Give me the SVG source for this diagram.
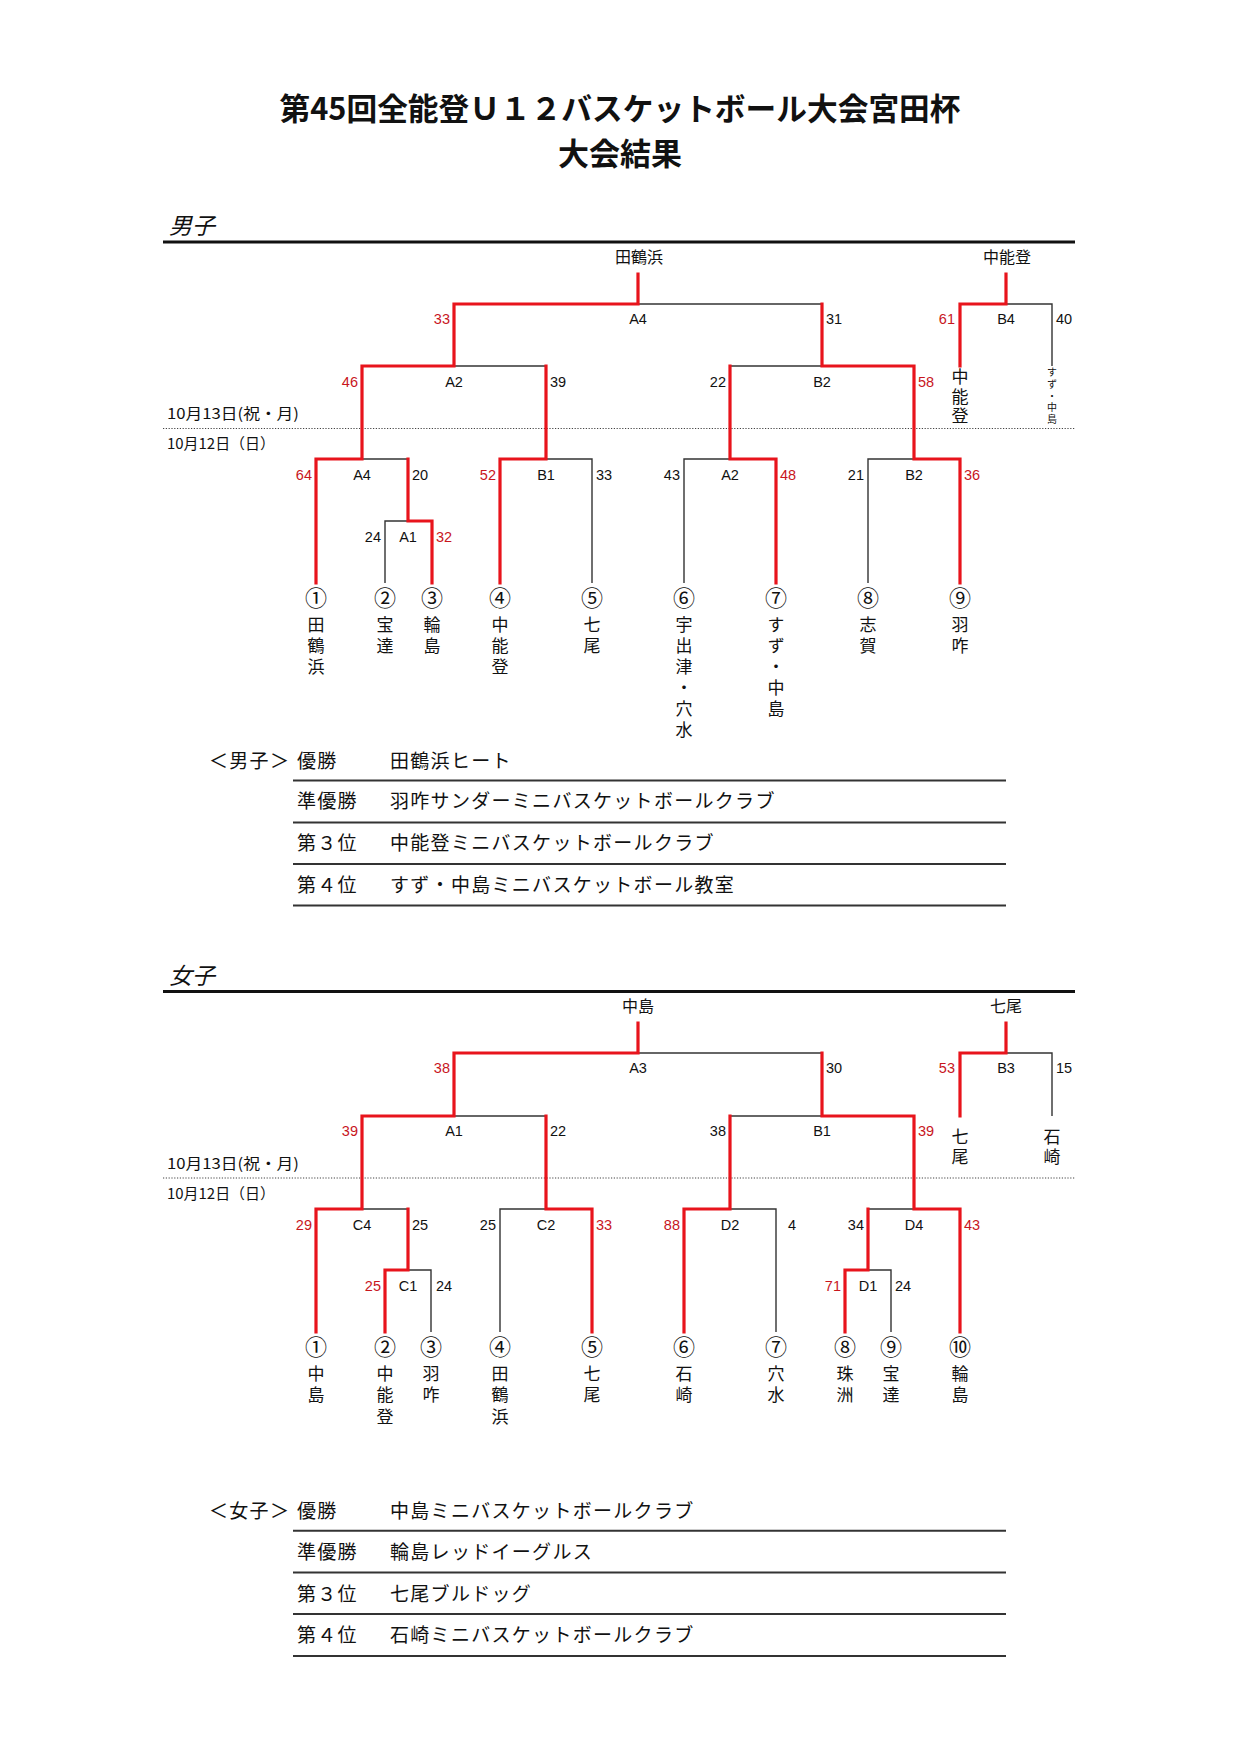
<svg xmlns="http://www.w3.org/2000/svg" width="1240" height="1754" viewBox="0 0 1240 1754">
<style>
.bg{fill:#fff}
.red{stroke:#e8141c;stroke-width:3.2;fill:none;stroke-linejoin:miter;stroke-linecap:square}
.blk{stroke:#333;stroke-width:1.4;fill:none}
.rule{stroke:#111;stroke-width:3}
.dot{stroke:#444;stroke-width:1.2;stroke-dasharray:1.2 1.6}
.tline{stroke:#333;stroke-width:2}
.jp{font-family:"Noto Sans CJK JP","Noto Sans CJK SC",sans-serif;fill:#111}
.title{font-size:31px;font-weight:700;text-anchor:middle}
.sec{font-size:23px;font-style:italic}
.sc{font-family:"Liberation Sans","DejaVu Sans",sans-serif;font-size:14.5px;fill:#111}
.r{fill:#c8161d}
.m{text-anchor:middle}
.e{text-anchor:end}
.v{writing-mode:vertical-rl;text-orientation:upright;font-size:17px;letter-spacing:4px}
.v2{letter-spacing:2.7px}
.v3{letter-spacing:4.5px}
.cn{font-size:22px;text-anchor:middle}
.top{font-size:16px;text-anchor:middle}
.sm{writing-mode:vertical-rl;text-orientation:upright;font-size:10px;letter-spacing:1.9px}
.date{font-size:15px}
.tb{font-size:19px;letter-spacing:1.3px}
</style>
<rect class="bg" x="0" y="0" width="1240" height="1754"/>

<g id="title">
<text class="jp title" x="620" y="120" textLength="681" lengthAdjust="spacingAndGlyphs">第45回全能登Ｕ１２バスケットボール大会宮田杯</text>
<text class="jp title" x="620" y="165">大会結果</text>
</g>

<!-- ================= MALE ================= -->
<g id="male-header">
<text class="jp sec" x="169" y="234">男子</text>
<line class="rule" x1="163" y1="242" x2="1075" y2="242"/>
<line class="dot" x1="163" y1="428.5" x2="1075" y2="428.5"/>
<text class="jp date" x="167" y="418.5" textLength="132" lengthAdjust="spacingAndGlyphs">10月13日(祝・月)</text>
<text class="jp date" x="167" y="448.5" textLength="108" lengthAdjust="spacingAndGlyphs">10月12日（日）</text>
</g>

<g id="male-connectors">
<polyline class="blk" points="362,459 408,459"/>
<polyline class="blk" points="408,521 385,521 385,583"/>
<polyline class="blk" points="546,459 592,459 592,583"/>
<polyline class="blk" points="730,459 684,459 684,583"/>
<polyline class="blk" points="914,459 868,459 868,583"/>
<polyline class="blk" points="454,366 546,366"/>
<polyline class="blk" points="730,366 822,366"/>
<polyline class="blk" points="638,304 822,304"/>
<polyline class="blk" points="1006,304 1052,304 1052,366"/>
<polyline class="red" points="316,583 316,459 362,459 362,366 454,366 454,304 638,304 638,274"/>
<polyline class="red" points="432,583 432,521 408,521 408,459"/>
<polyline class="red" points="500,583 500,459 546,459 546,366"/>
<polyline class="red" points="776,583 776,459 730,459 730,366"/>
<polyline class="red" points="960,583 960,459 914,459 914,366 822,366 822,304"/>
<polyline class="red" points="960,366 960,304 1006,304 1006,274"/>
</g>

<g id="male-champion"><text class="jp top" x="639" y="263">田鶴浜</text></g>
<g id="male-third"><text class="jp top" x="1007" y="263">中能登</text></g>

<g id="m-final">
<text class="sc r e" x="450" y="324">33</text><text class="sc m" x="638" y="324">A4</text><text class="sc" x="826" y="324">31</text>
</g>
<g id="m-b4">
<text class="sc r e" x="955" y="324">61</text><text class="sc m" x="1006" y="324">B4</text><text class="sc" x="1056" y="324">40</text>
</g>
<g id="m-a2-r2">
<text class="sc r e" x="358" y="386.5">46</text><text class="sc m" x="454" y="386.5">A2</text><text class="sc" x="550" y="386.5">39</text>
</g>
<g id="m-b2-r2">
<text class="sc e" x="726" y="386.5">22</text><text class="sc m" x="822" y="386.5">B2</text><text class="sc r" x="918" y="386.5">58</text>
</g>
<g id="m-a4-r1">
<text class="sc r e" x="312" y="480">64</text><text class="sc m" x="362" y="480">A4</text><text class="sc" x="412" y="480">20</text>
</g>
<g id="m-b1-r1">
<text class="sc r e" x="496" y="480">52</text><text class="sc m" x="546" y="480">B1</text><text class="sc" x="596" y="480">33</text>
</g>
<g id="m-a2-r1">
<text class="sc e" x="680" y="480">43</text><text class="sc m" x="730" y="480">A2</text><text class="sc r" x="780" y="480">48</text>
</g>
<g id="m-b2-r1">
<text class="sc e" x="864" y="480">21</text><text class="sc m" x="914" y="480">B2</text><text class="sc r" x="964" y="480">36</text>
</g>
<g id="m-a1">
<text class="sc e" x="381" y="542">24</text><text class="sc m" x="408" y="542">A1</text><text class="sc r" x="436" y="542">32</text>
</g>

<g id="m-third-names">
<text class="jp v v2" x="960" y="368">中能登</text>
<text class="jp sm" x="1052" y="367">すず・中島</text>
</g>

<g id="m-team1"><text class="jp cn" x="316" y="605.5">①</text><text class="jp v" x="316" y="616.5">田鶴浜</text></g>
<g id="m-team2"><text class="jp cn" x="385" y="605.5">②</text><text class="jp v" x="385" y="616.5">宝達</text></g>
<g id="m-team3"><text class="jp cn" x="432" y="605.5">③</text><text class="jp v" x="432" y="616.5">輪島</text></g>
<g id="m-team4"><text class="jp cn" x="500" y="605.5">④</text><text class="jp v" x="500" y="616.5">中能登</text></g>
<g id="m-team5"><text class="jp cn" x="592" y="605.5">⑤</text><text class="jp v" x="592" y="616.5">七尾</text></g>
<g id="m-team6"><text class="jp cn" x="684" y="605.5">⑥</text><text class="jp v" x="684" y="616.5">宇出津・穴水</text></g>
<g id="m-team7"><text class="jp cn" x="776" y="605.5">⑦</text><text class="jp v" x="776" y="616.5">すず・中島</text></g>
<g id="m-team8"><text class="jp cn" x="868" y="605.5">⑧</text><text class="jp v" x="868" y="616.5">志賀</text></g>
<g id="m-team9"><text class="jp cn" x="960" y="605.5">⑨</text><text class="jp v" x="960" y="616.5">羽咋</text></g>

<g id="male-results">
<text class="jp tb" x="209" y="767.5">＜男子＞</text>
<text class="jp tb" x="297" y="767.5">優勝</text>
<text class="jp tb" x="390" y="767.5">田鶴浜ヒート</text>
<line class="tline" x1="293" y1="780.5" x2="1006" y2="780.5"/>
<text class="jp tb" x="297" y="808">準優勝</text>
<text class="jp tb" x="390" y="808">羽咋サンダーミニバスケットボールクラブ</text>
<line class="tline" x1="293" y1="822.5" x2="1006" y2="822.5"/>
<text class="jp tb" x="297" y="850">第３位</text>
<text class="jp tb" x="390" y="850">中能登ミニバスケットボールクラブ</text>
<line class="tline" x1="293" y1="864" x2="1006" y2="864"/>
<text class="jp tb" x="297" y="891.5">第４位</text>
<text class="jp tb" x="390" y="891.5">すず・中島ミニバスケットボール教室</text>
<line class="tline" x1="293" y1="905.5" x2="1006" y2="905.5"/>
</g>

<!-- ================= FEMALE ================= -->
<g id="female-header">
<text class="jp sec" x="169" y="983.5">女子</text>
<line class="rule" x1="163" y1="991.5" x2="1075" y2="991.5"/>
<line class="dot" x1="163" y1="1178" x2="1075" y2="1178"/>
<text class="jp date" x="167" y="1168.5" textLength="132" lengthAdjust="spacingAndGlyphs">10月13日(祝・月)</text>
<text class="jp date" x="167" y="1198.5" textLength="108" lengthAdjust="spacingAndGlyphs">10月12日（日）</text>
</g>

<g id="female-connectors">
<polyline class="blk" points="362,1209 408,1209"/>
<polyline class="blk" points="408,1270 431,1270 431,1332"/>
<polyline class="blk" points="546,1209 500,1209 500,1332"/>
<polyline class="blk" points="454,1116 546,1116"/>
<polyline class="blk" points="730,1209 776,1209 776,1332"/>
<polyline class="blk" points="868,1209 914,1209"/>
<polyline class="blk" points="868,1270 891,1270 891,1332"/>
<polyline class="blk" points="730,1116 822,1116"/>
<polyline class="blk" points="638,1053 822,1053"/>
<polyline class="blk" points="1006,1053 1052,1053 1052,1116"/>
<polyline class="red" points="316,1332 316,1209 362,1209 362,1116 454,1116 454,1053 638,1053 638,1023"/>
<polyline class="red" points="385,1332 385,1270 408,1270 408,1209"/>
<polyline class="red" points="592,1332 592,1209 546,1209 546,1116"/>
<polyline class="red" points="684,1332 684,1209 730,1209 730,1116"/>
<polyline class="red" points="845,1332 845,1270 868,1270 868,1209"/>
<polyline class="red" points="960,1332 960,1209 914,1209 914,1116 822,1116 822,1053"/>
<polyline class="red" points="960,1116 960,1053 1006,1053 1006,1023"/>
</g>

<g id="female-champion"><text class="jp top" x="638" y="1012">中島</text></g>
<g id="female-third"><text class="jp top" x="1006" y="1012">七尾</text></g>

<g id="f-final">
<text class="sc r e" x="450" y="1073">38</text><text class="sc m" x="638" y="1073">A3</text><text class="sc" x="826" y="1073">30</text>
</g>
<g id="f-b3">
<text class="sc r e" x="955" y="1073">53</text><text class="sc m" x="1006" y="1073">B3</text><text class="sc" x="1056" y="1073">15</text>
</g>
<g id="f-a1-r2">
<text class="sc r e" x="358" y="1136">39</text><text class="sc m" x="454" y="1136">A1</text><text class="sc" x="550" y="1136">22</text>
</g>
<g id="f-b1-r2">
<text class="sc e" x="726" y="1136">38</text><text class="sc m" x="822" y="1136">B1</text><text class="sc r" x="918" y="1136">39</text>
</g>
<g id="f-c4">
<text class="sc r e" x="312" y="1229.5">29</text><text class="sc m" x="362" y="1229.5">C4</text><text class="sc" x="412" y="1229.5">25</text>
</g>
<g id="f-c2">
<text class="sc e" x="496" y="1229.5">25</text><text class="sc m" x="546" y="1229.5">C2</text><text class="sc r" x="596" y="1229.5">33</text>
</g>
<g id="f-d2">
<text class="sc r e" x="680" y="1229.5">88</text><text class="sc m" x="730" y="1229.5">D2</text><text class="sc" x="788" y="1229.5">4</text>
</g>
<g id="f-d4">
<text class="sc e" x="864" y="1229.5">34</text><text class="sc m" x="914" y="1229.5">D4</text><text class="sc r" x="964" y="1229.5">43</text>
</g>
<g id="f-c1">
<text class="sc r e" x="381" y="1291">25</text><text class="sc m" x="408" y="1291">C1</text><text class="sc" x="436" y="1291">24</text>
</g>
<g id="f-d1">
<text class="sc r e" x="841" y="1291">71</text><text class="sc m" x="868" y="1291">D1</text><text class="sc" x="895" y="1291">24</text>
</g>

<g id="f-third-names">
<text class="jp v v2" x="960" y="1128">七尾</text>
<text class="jp v v2" x="1052" y="1128">石崎</text>
</g>

<g id="f-team1"><text class="jp cn" x="316" y="1355">①</text><text class="jp v v3" x="316" y="1365">中島</text></g>
<g id="f-team2"><text class="jp cn" x="385" y="1355">②</text><text class="jp v v3" x="385" y="1365">中能登</text></g>
<g id="f-team3"><text class="jp cn" x="431" y="1355">③</text><text class="jp v v3" x="431" y="1365">羽咋</text></g>
<g id="f-team4"><text class="jp cn" x="500" y="1355">④</text><text class="jp v v3" x="500" y="1365">田鶴浜</text></g>
<g id="f-team5"><text class="jp cn" x="592" y="1355">⑤</text><text class="jp v v3" x="592" y="1365">七尾</text></g>
<g id="f-team6"><text class="jp cn" x="684" y="1355">⑥</text><text class="jp v v3" x="684" y="1365">石崎</text></g>
<g id="f-team7"><text class="jp cn" x="776" y="1355">⑦</text><text class="jp v v3" x="776" y="1365">穴水</text></g>
<g id="f-team8"><text class="jp cn" x="845" y="1355">⑧</text><text class="jp v v3" x="845" y="1365">珠洲</text></g>
<g id="f-team9"><text class="jp cn" x="891" y="1355">⑨</text><text class="jp v v3" x="891" y="1365">宝達</text></g>
<g id="f-team10"><text class="jp cn" x="960" y="1355">⑩</text><text class="jp v v3" x="960" y="1365">輪島</text></g>

<g id="female-results">
<text class="jp tb" x="209" y="1518">＜女子＞</text>
<text class="jp tb" x="297" y="1518">優勝</text>
<text class="jp tb" x="390" y="1518">中島ミニバスケットボールクラブ</text>
<line class="tline" x1="293" y1="1530.8" x2="1006" y2="1530.8"/>
<text class="jp tb" x="297" y="1559">準優勝</text>
<text class="jp tb" x="390" y="1559">輪島レッドイーグルス</text>
<line class="tline" x1="293" y1="1572.5" x2="1006" y2="1572.5"/>
<text class="jp tb" x="297" y="1600.5">第３位</text>
<text class="jp tb" x="390" y="1600.5">七尾ブルドッグ</text>
<line class="tline" x1="293" y1="1614" x2="1006" y2="1614"/>
<text class="jp tb" x="297" y="1642">第４位</text>
<text class="jp tb" x="390" y="1642">石崎ミニバスケットボールクラブ</text>
<line class="tline" x1="293" y1="1656" x2="1006" y2="1656"/>
</g>
</svg>
